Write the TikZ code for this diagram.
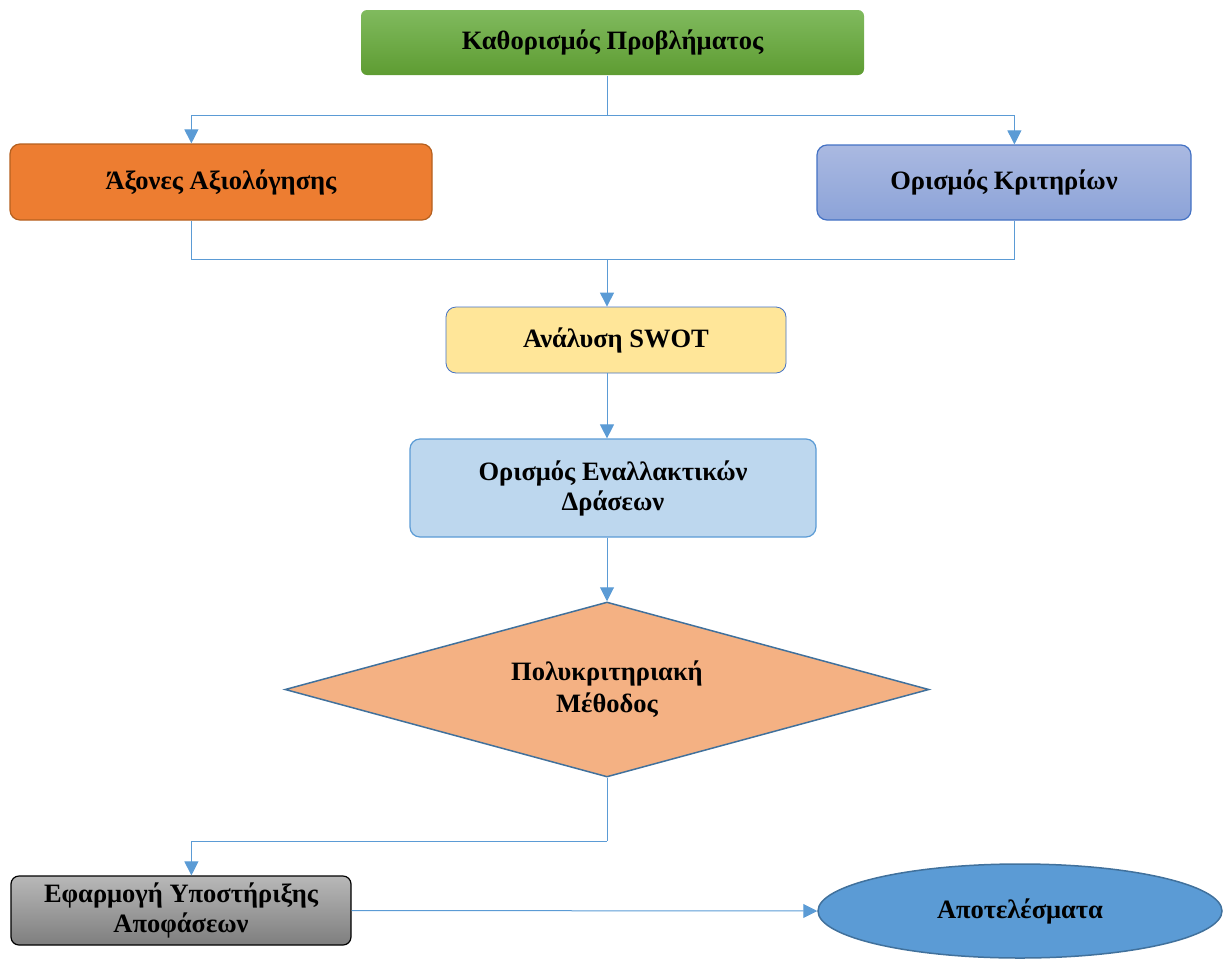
\documentclass[tikz,border=0pt]{standalone}
\usepackage{fontspec}
\setmainfont{Liberation Serif}
\usetikzlibrary{shapes.geometric,arrows.meta,calc}
\definecolor{conn}{HTML}{5B9BD5}
\definecolor{greenT}{HTML}{80BA5E}
\definecolor{greenB}{HTML}{5E9C32}
\definecolor{orangeF}{HTML}{ED7D31}
\definecolor{orangeD}{HTML}{B5601F}
\definecolor{lilacT}{HTML}{AAB9E1}
\definecolor{lilacB}{HTML}{8CA3D8}
\definecolor{lilacD}{HTML}{4472C4}
\definecolor{swotF}{HTML}{FFE699}
\definecolor{altF}{HTML}{BDD7EE}
\definecolor{diamF}{HTML}{F4B183}
\definecolor{darkblue}{HTML}{41719C}
\definecolor{grayT}{HTML}{B8B8B8}
\definecolor{grayB}{HTML}{7E7E7E}
\definecolor{ellF}{HTML}{5B9BD5}
\tikzset{
  lbl/.style={font=\fontsize{26.5}{30}\selectfont\bfseries, align=center, inner sep=0pt},
  boxnode/.style={lbl, rectangle, rounded corners=10pt, line width=1.2pt},
  conline/.style={draw=conn, line width=1pt},
  arr/.style={conline, -{Triangle[width=14pt,length=14pt]}},
}
\begin{document}
\begin{tikzpicture}[x=1pt,y=-1pt]
\path[use as bounding box] (0,0) rectangle (1224,962);

\node[boxnode, rounded corners=6pt, top color=greenT, bottom color=greenB, draw=none, minimum width=503pt, minimum height=65pt] (prob) at (612.5,42.5) {Καθορισμός Προβλήματος};

\node[boxnode, fill=orangeF, draw=orangeD, minimum width=422pt, minimum height=76pt] (axes) at (221,182) {\raisebox{4pt}{Άξονες Αξιολόγησης}};

\node[boxnode, top color=lilacT, bottom color=lilacB, draw=lilacD, minimum width=374pt, minimum height=75pt] (crit) at (1004,182.5) {\raisebox{4pt}{Ορισμός Κριτηρίων}};

\node[boxnode, fill=swotF, draw=lilacD, line width=0.8pt, minimum width=340pt, minimum height=66pt] (swot) at (616,340) {Ανάλυση SWOT};

\node[boxnode, fill=altF, draw=conn, minimum width=406pt, minimum height=98pt] (alt) at (613,488) {Ορισμός Εναλλακτικών\\ Δράσεων};

\node[lbl, diamond, fill=diamF, draw=darkblue, line width=1.5pt, minimum width=644pt, minimum height=175pt, aspect=3.68] (multi) at (607,689.5) {Πολυκριτηριακή\\[2pt] Μέθοδος};

\node[boxnode, top color=grayT, bottom color=grayB, draw=black, rounded corners=8pt, minimum width=340pt, minimum height=69pt] (dss) at (181,910.5) {Εφαρμογή Υποστήριξης\\ Αποφάσεων};

\node[lbl, ellipse, fill=ellF, draw=darkblue, line width=1.5pt, minimum width=404pt, minimum height=94pt, inner sep=0pt] (res) at (1020,911) {Αποτελέσματα};

% connectors
\coordinate (fork1) at (607,115);
\coordinate (join1) at (607,259);
\coordinate (fork2) at (607,841);

\draw[conline] (prob.south -| fork1) -- (fork1);
\draw[arr] (fork1) -| ([xshift=182pt]axes.north west);
\draw[arr] (fork1) -| ([xshift=198pt]crit.north west);

\draw[conline] ([xshift=182pt]axes.south west) |- (join1);
\draw[conline] ([xshift=198pt]crit.south west) |- (join1);
\draw[arr] (join1) -- (swot.north -| join1);

\draw[arr] (swot.south -| join1) -- (alt.north -| join1);
\draw[arr] (alt.south -| join1) -- (multi.north);

\draw[conline] (multi.south) -- (fork2);
\draw[arr] (fork2) -| ([xshift=181pt]dss.north west);

\draw[arr] (dss.east) -- (res.west);
\end{tikzpicture}
\end{document}
